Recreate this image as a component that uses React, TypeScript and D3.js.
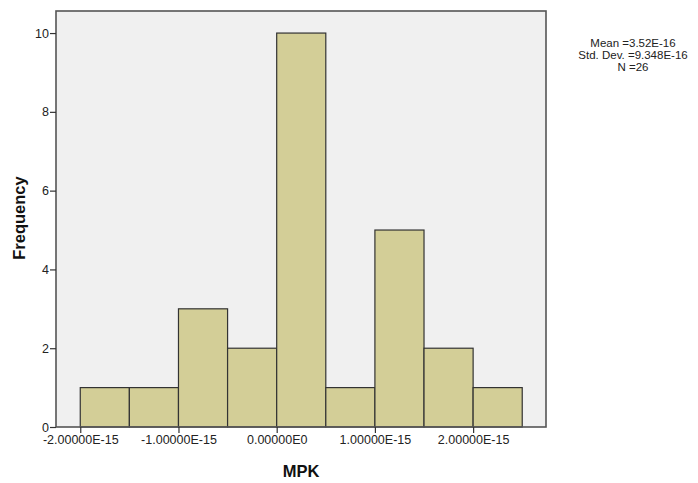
import React, { useRef, useEffect } from "react";
import { select, scaleLinear, axisBottom, axisLeft } from "d3";

// bin edges in units of 1E-15
const binStarts = [-2.0, -1.5, -1.0, -0.5, 0.0, 0.5, 1.0, 1.5, 2.0];
const binWidth = 0.5;
const counts = [1, 1, 3, 2, 10, 1, 5, 2, 1];
const xTicks = [-2, -1, 0, 1, 2];
const xTickLabels = ["-2.00000E-15", "-1.00000E-15", "0.00000E0", "1.00000E-15", "2.00000E-15"];
const yTicks = [0, 2, 4, 6, 8, 10];
const statsLines = ["Mean =3.52E-16", "Std. Dev. =9.348E-16", "N =26"];

function App() {
  const svgRef = useRef<SVGSVGElement>(null);

  useEffect(() => {
    const svg = select(svgRef.current);
    svg.selectAll("*").remove();

    const left = 56;
    const right = 546;
    const top = 11;
    const bottom = 427;
    const font = "'Liberation Sans', Arial, sans-serif";

    const xScale = scaleLinear().domain([-2.247, 2.742]).range([left, right]);
    const yScale = scaleLinear().domain([0, 10.56]).range([bottom, top]);

    // plot background
    svg
      .append("rect")
      .attr("x", left)
      .attr("y", top)
      .attr("width", right - left)
      .attr("height", bottom - top)
      .attr("fill", "#f0f0f0");

    // bars
    svg
      .selectAll(".bar")
      .data(counts)
      .join("rect")
      .attr("class", "bar")
      .attr("x", (d, i) => xScale(binStarts[i]))
      .attr("y", (d) => yScale(d))
      .attr("width", (d, i) => xScale(binStarts[i] + binWidth) - xScale(binStarts[i]))
      .attr("height", (d) => yScale(0) - yScale(d))
      .attr("fill", "#d3ce97")
      .attr("stroke", "#333")
      .attr("stroke-width", 1.2);

    // frame
    svg
      .append("rect")
      .attr("x", left)
      .attr("y", top)
      .attr("width", right - left)
      .attr("height", bottom - top)
      .attr("fill", "none")
      .attr("stroke", "#555")
      .attr("stroke-width", 1.6);

    // x axis
    const xAxis = axisBottom(xScale)
      .tickValues(xTicks)
      .tickSize(6)
      .tickFormat((d, i) => xTickLabels[i]);
    const gx = svg.append("g").attr("transform", `translate(0,${bottom})`).call(xAxis);
    gx.select(".domain").remove();
    gx.selectAll(".tick line").attr("stroke", "#333").attr("stroke-width", 1.2);
    gx.selectAll(".tick text")
      .attr("fill", "#222")
      .attr("dy", "0.71em")
      .attr("y", 8)
      .style("font-family", font)
      .style("font-size", "12.5px");

    // y axis
    const yAxis = axisLeft(yScale).tickValues(yTicks).tickSize(6).tickFormat((d) => String(d));
    const gy = svg.append("g").attr("transform", `translate(${left},0)`).call(yAxis);
    gy.select(".domain").remove();
    gy.selectAll(".tick line").attr("stroke", "#333").attr("stroke-width", 1.2);
    gy.selectAll(".tick text")
      .attr("fill", "#222")
      .attr("x", -7)
      .style("font-family", font)
      .style("font-size", "12.5px");

    // axis titles
    svg
      .append("text")
      .attr("x", 301)
      .attr("y", 477)
      .attr("text-anchor", "middle")
      .style("font-family", font)
      .style("font-size", "16.5px")
      .style("font-weight", "bold")
      .attr("fill", "#111")
      .text("MPK");

    svg
      .append("text")
      .attr("transform", "translate(25,218) rotate(-90)")
      .attr("text-anchor", "middle")
      .style("font-family", font)
      .style("font-size", "16.5px")
      .style("font-weight", "bold")
      .attr("fill", "#111")
      .text("Frequency");

    // stats box
    svg
      .selectAll(".stat")
      .data(statsLines)
      .join("text")
      .attr("class", "stat")
      .attr("x", 633)
      .attr("y", (d, i) => 47 + i * 12)
      .attr("text-anchor", "middle")
      .style("font-family", font)
      .style("font-size", "11.5px")
      .attr("fill", "#222")
      .text((d) => d);
  }, []);

  return (
    <svg
      ref={svgRef}
      width={698}
      height={483}
      style={{ position: "absolute", left: 0, top: 0, background: "#fff" }}
    />
  );
}

export default App;
